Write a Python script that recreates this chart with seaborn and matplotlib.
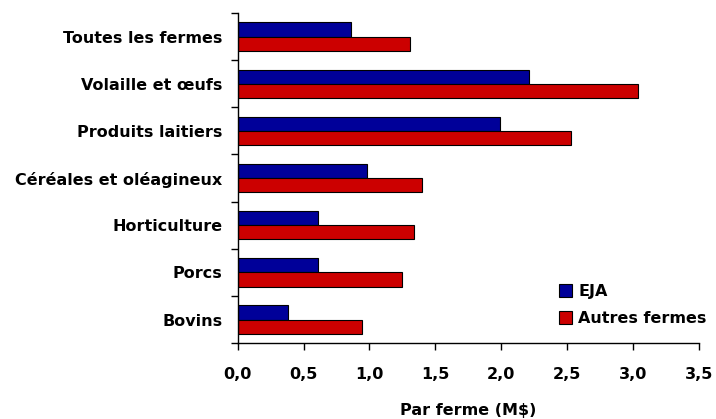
import matplotlib
matplotlib.use("Agg")
import matplotlib.pyplot as plt
import seaborn as sns
import pandas as pd
import numpy as np
from matplotlib.ticker import FixedLocator, FuncFormatter

categories = ["Toutes les fermes", "Volaille et œufs", "Produits laitiers",
              "Céréales et oléagineux", "Horticulture", "Porcs", "Bovins"]
eja = [0.86, 2.21, 1.99, 0.98, 0.61, 0.61, 0.38]
autres = [1.31, 3.04, 2.53, 1.40, 1.34, 1.25, 0.94]
series_names = ["EJA", "Autres fermes"]
colors = ["#000099", "#CC0000"]
x_ticks = [0.0, 0.5, 1.0, 1.5, 2.0, 2.5, 3.0, 3.5]

df = pd.DataFrame({
    "cat": categories * 2,
    "val": eja + autres,
    "serie": [series_names[0]] * len(categories) + [series_names[1]] * len(categories),
})

sns.set_style("white")
plt.rcParams["font.family"] = ["DejaVu Sans"]
plt.rcParams["font.weight"] = "bold"
for k in ["text.color", "axes.labelcolor", "xtick.color", "ytick.color"]:
    plt.rcParams[k] = "black"

FS = 11.5

fig = plt.figure(figsize=(7.16, 4.19), dpi=100)
ax = fig.add_axes([0.332, 0.181, 0.644, 0.788])

sns.barplot(data=df, y="cat", x="val", hue="serie", order=categories,
            hue_order=series_names, palette=colors, orient="h", width=0.6,
            edgecolor="black", linewidth=0.8, saturation=1, ax=ax, errorbar=None)

ax.set_xlim(0, 3.5)
ax.set_ylim(len(categories) - 0.5, -0.5)
ax.xaxis.set_major_locator(FixedLocator(x_ticks))
ax.xaxis.set_major_formatter(FuncFormatter(lambda v, p: f"{v:.1f}".replace(".", ",")))
ax.yaxis.set_minor_locator(FixedLocator(np.arange(-0.5, len(categories), 1.0)))
ax.tick_params(axis="y", which="major", length=0, pad=11, labelsize=FS, labelcolor="black")
ax.tick_params(axis="y", which="minor", length=5, width=1, direction="out", color="black", left=True)
ax.tick_params(axis="x", which="major", length=5, width=1, direction="out", color="black",
               bottom=True, pad=12, labelsize=FS, labelcolor="black")
for lab in ax.get_yticklabels() + ax.get_xticklabels():
    lab.set_fontweight("bold")

for s in ["top", "right"]:
    ax.spines[s].set_visible(False)
for s in ["left", "bottom"]:
    ax.spines[s].set_color("black")
    ax.spines[s].set_linewidth(1)

ax.set_ylabel("")
ax.set_xlabel("Par ferme (M$)", fontsize=FS, fontweight="bold", labelpad=15, color="black")

leg = ax.legend(loc="lower right", bbox_to_anchor=(0.987, 0.222),
                bbox_transform=fig.transFigure, frameon=False,
                fontsize=FS, handlelength=0.8, handleheight=0.8, handletextpad=0.4,
                labelspacing=0.75, borderaxespad=0, borderpad=0)
for t in leg.get_texts():
    t.set_fontweight("bold")
    t.set_color("black")

fig.savefig("out.png", dpi=100)
